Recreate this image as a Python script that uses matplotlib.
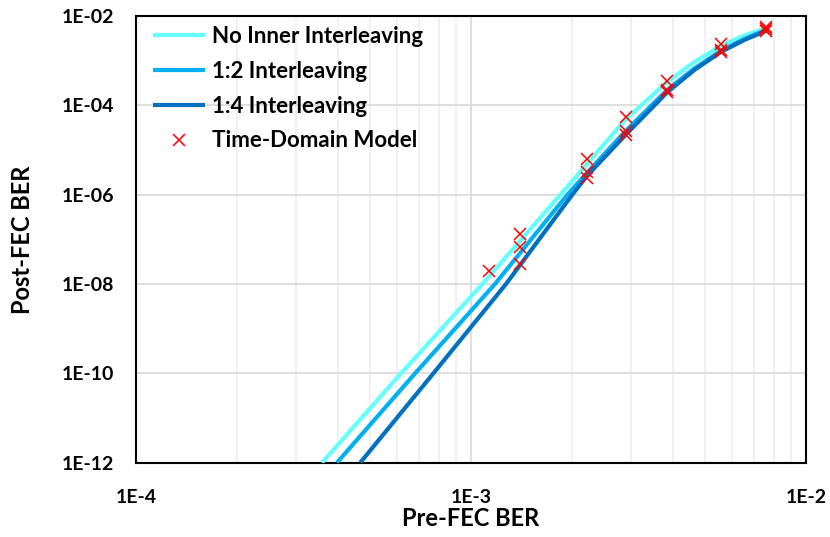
import matplotlib
matplotlib.use("Agg")
import matplotlib.pyplot as plt
from matplotlib.ticker import FixedLocator, FixedFormatter, NullFormatter

# -----------------------------
# DATA
# -----------------------------
pre_fec_none = [3.59e-4, 6.18e-4, 1.081e-3, 1.848e-3, 2.892e-3, 3.847e-3,
                4.64e-3, 5.588e-3, 6.59e-3, 7.65e-3]
post_fec_none = [1e-12, 1e-10, 1e-8, 1e-6, 4.82e-5, 3.33e-4,
                 9.34e-4, 2.186e-3, 3.756e-3, 5.39e-3]

pre_fec_12 = [3.98e-4, 6.81e-4, 1.179e-3, 1.939e-3, 2.2245e-3, 2.892e-3,
              3.847e-3, 4.64e-3, 5.588e-3, 6.59e-3, 7.65e-3]
post_fec_12 = [1e-12, 1e-10, 1e-8, 1e-6, 3.14e-6, 2.66e-5,
               2.205e-4, 6.68e-4, 1.689e-3, 3.134e-3, 4.99e-3]

pre_fec_14 = [4.67e-4, 7.72e-4, 1.272e-3, 2.006e-3, 2.2245e-3, 2.892e-3,
              3.847e-3, 4.64e-3, 5.588e-3, 6.59e-3, 7.65e-3]
post_fec_14 = [1e-12, 1e-10, 1e-8, 1e-6, 2.69e-6, 2.17e-5,
               1.94e-4, 6.18e-4, 1.588e-3, 2.977e-3, 4.74e-3]

# time-domain model points
model_x = [1.128e-3,
           1.397e-3, 1.397e-3, 1.397e-3,
           2.2245e-3, 2.2245e-3, 2.2245e-3,
           2.892e-3, 2.892e-3, 2.892e-3,
           3.847e-3, 3.847e-3, 3.847e-3,
           5.588e-3, 5.588e-3, 5.588e-3,
           7.61e-3, 7.61e-3, 7.61e-3]
model_y = [1.99e-8,
           1.32e-7, 6.84e-8, 2.76e-8,
           6.45e-6, 3.22e-6, 2.36e-6,
           5.35e-5, 2.67e-5, 2.17e-5,
           3.5e-4, 2.2e-4, 1.94e-4,
           2.36e-3, 1.69e-3, 1.59e-3,
           5.58e-3, 5.04e-3, 4.69e-3]

x_ticks = [1e-4, 1e-3, 1e-2]
x_ticklabels = ["1E-4", "1E-3", "1E-2"]
y_ticks = [1e-12, 1e-10, 1e-8, 1e-6, 1e-4, 1e-2]
y_ticklabels = ["1E-12", "1E-10", "1E-08", "1E-06", "1E-04", "1E-02"]

# -----------------------------
# PLOT
# -----------------------------
plt.rcParams['font.family'] = ['Lato', 'DejaVu Sans']
plt.rcParams['font.weight'] = 'bold'

fig = plt.figure(figsize=(8.3, 5.37), dpi=100)
ax = fig.add_axes([0.1639, 0.1384, 0.8072, 0.8318])

ax.plot(pre_fec_none, post_fec_none, color='#66FFFF', lw=3, label='No Inner Interleaving',
        solid_capstyle='butt', zorder=3)
ax.plot(pre_fec_12, post_fec_12, color='#00B0F0', lw=3, label='1:2 Interleaving',
        solid_capstyle='butt', zorder=3)
ax.plot(pre_fec_14, post_fec_14, color='#0070C0', lw=3, label='1:4 Interleaving',
        solid_capstyle='butt', zorder=3)
ax.plot(model_x, model_y, linestyle='none', marker='x', color='#FF0000',
        markersize=9, markeredgewidth=1.1, label='Time-Domain Model', zorder=4)

ax.set_xscale('log')
ax.set_yscale('log')
ax.set_xlim(1e-4, 1e-2)
ax.set_ylim(1e-12, 1e-2)

ax.xaxis.set_major_locator(FixedLocator(x_ticks))
ax.xaxis.set_major_formatter(FixedFormatter(x_ticklabels))
minor_x = [m * 10.0 ** e for e in (-4, -3) for m in range(2, 10)]
ax.xaxis.set_minor_locator(FixedLocator(minor_x))
ax.xaxis.set_minor_formatter(NullFormatter())
ax.yaxis.set_major_locator(FixedLocator(y_ticks))
ax.yaxis.set_major_formatter(FixedFormatter(y_ticklabels))
ax.yaxis.set_minor_locator(FixedLocator([]))

ax.grid(True, which='major', color='#D9D9D9', lw=1.2, zorder=0)
ax.grid(True, which='minor', axis='x', color='#EFEFEF', lw=1.2, zorder=0)
ax.set_axisbelow(True)

ax.tick_params(which='both', length=0, labelsize=14)
ax.tick_params(axis='y', pad=16)
ax.tick_params(axis='x', pad=19)
for lbl in ax.get_xticklabels() + ax.get_yticklabels():
    lbl.set_fontweight('bold')

for sp in ax.spines.values():
    sp.set_color('black')
    sp.set_linewidth(1.5)

ax.set_xlabel("Pre-FEC BER", fontsize=17, fontweight='bold')
ax.set_ylabel("Post-FEC BER", fontsize=17, fontweight='bold')
ax.xaxis.set_label_coords(0.5, -0.099)
ax.yaxis.set_label_coords(-0.152, 0.5)

leg = ax.legend(loc='upper left', bbox_to_anchor=(153 / 830, 1 - 26 / 537),
                bbox_transform=fig.transFigure, frameon=False, fontsize=16,
                handlelength=2.35, handletextpad=0.32, labelspacing=0.62,
                borderpad=0, borderaxespad=0)
for t in leg.get_texts():
    t.set_fontweight('bold')

fig.savefig("out.png", dpi=100)
